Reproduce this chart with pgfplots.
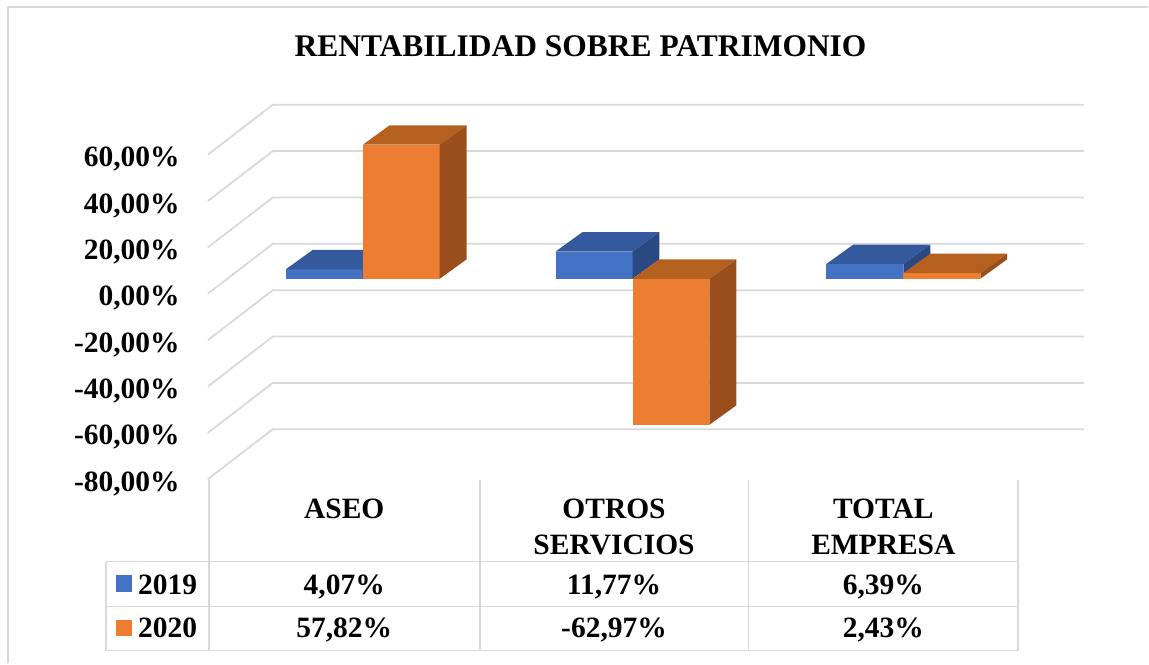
\documentclass[border=0pt]{standalone}
\usepackage{pgfplots}
\pgfplotsset{compat=1.18}
\usepackage{fontspec}
\setmainfont{Liberation Serif}
\definecolor{bfront}{HTML}{4472C4}
\definecolor{btop}{HTML}{34599D}
\definecolor{bside}{HTML}{2A4983}
\definecolor{ofront}{HTML}{ED7D31}
\definecolor{otop}{HTML}{B5601F}
\definecolor{oside}{HTML}{9A4E1C}
\definecolor{gridc}{RGB}{217,217,217}
\newcommand{\lbl}{\fontsize{29.5}{36}\selectfont\bfseries}
% 3D bar: #1 left x (px), #2 value (%), #3 front, #4 top, #5 side colour
\newcommand{\cube}[5]{%
  \pgfmathsetmacro\xa{#1}%
  \pgfmathsetmacro\xb{#1+77}%
  \pgfmathsetmacro\xc{#1+27}%
  \pgfmathsetmacro\xd{#1+104}%
  \pgfmathsetmacro\lo{min(0,#2)}%
  \pgfmathsetmacro\hi{max(0,#2)}%
  \pgfmathsetmacro\lod{\lo+8.4}%
  \pgfmathsetmacro\hid{\hi+8.4}%
  \edef\doit{%
    \noexpand\addplot[fill=#3,draw=none] coordinates {(\xa,\lo) (\xb,\lo) (\xb,\hi) (\xa,\hi)} --cycle;
    \noexpand\addplot[fill=#4,draw=none] coordinates {(\xa,\hi) (\xb,\hi) (\xd,\hid) (\xc,\hid)} --cycle;
    \noexpand\addplot[fill=#5,draw=none] coordinates {(\xb,\lo) (\xd,\lod) (\xd,\hid) (\xb,\hi)} --cycle;
  }\doit}
\begin{document}
\begin{tikzpicture}
\begin{scope}[x=1pt,y=-1pt]
  \path (0,0) rectangle (1149,664);
  \draw[gridc,line width=1.8pt] (8,664) -- (8,7) -- (1149,7);
  \foreach \g in {60,40,20,0,-20,-40,-60,-80}{
    \pgfmathsetmacro\yb{244-2.32*\g}
    \draw[gridc,line width=1.8pt] (208,\yb+50) -- (273,\yb) -- (1085,\yb);
  }
\end{scope}
\begin{axis}[anchor=north west, at={(0pt,0pt)}, x=1pt, y=2.32pt,
  xmin=0, xmax=1149, ymin=-165.948, ymax=120.2586,
  hide axis, clip=false]
  \cube{286}{4.07}{bfront}{btop}{bside}
  \cube{363}{57.82}{ofront}{otop}{oside}
  \cube{556}{11.77}{bfront}{btop}{bside}
  \cube{633}{-62.97}{ofront}{otop}{oside}
  \cube{827}{6.39}{bfront}{btop}{bside}
  \cube{904}{2.43}{ofront}{otop}{oside}
\end{axis}
\begin{scope}[x=1pt,y=-1pt]
  \node[anchor=base, font=\fontsize{31.5}{36}\selectfont\bfseries] at (581,57) {RENTABILIDAD SOBRE PATRIMONIO};
  \foreach \g/\t in {60/60,40/40,20/20,0/0,-20/-20,-40/-40,-60/-60,-80/-80}{
    \pgfmathsetmacro\yb{244-2.32*\g+62}
    \node[anchor=base east, inner sep=0pt, font=\lbl] at (180,\yb) {\t,00\%};
  }
  % table
  \draw[gridc,line width=1.8pt] (106,562) -- (1019,562);
  \draw[gridc,line width=1.8pt] (106,607) -- (1019,607);
  \draw[gridc,line width=1.8pt] (106,651) -- (1019,651);
  \draw[gridc,line width=1.8pt] (106,562) -- (106,651);
  \foreach \xv in {209,480,749,1019}{
    \draw[gridc,line width=1.8pt] (\xv,480) -- (\xv,651);
  }
  \node[anchor=base, inner sep=0pt, font=\lbl] at (344.5,519) {ASEO};
  \node[anchor=base, inner sep=0pt, font=\lbl] at (614.5,519) {OTROS};
  \node[anchor=base, inner sep=0pt, font=\lbl] at (614.5,555) {SERVICIOS};
  \node[anchor=base, inner sep=0pt, font=\lbl] at (884,519) {TOTAL};
  \node[anchor=base, inner sep=0pt, font=\lbl] at (884,555) {EMPRESA};
  \fill[bfront] (116,575) rectangle (132,592);
  \fill[ofront] (116,620) rectangle (132,636);
  \node[anchor=base west, inner sep=0pt, font=\lbl] at (138,595) {2019};
  \node[anchor=base west, inner sep=0pt, font=\lbl] at (138,638) {2020};
  \node[anchor=base, inner sep=0pt, font=\lbl] at (344.5,595) {4,07\%};
  \node[anchor=base, inner sep=0pt, font=\lbl] at (614.5,595) {11,77\%};
  \node[anchor=base, inner sep=0pt, font=\lbl] at (884,595) {6,39\%};
  \node[anchor=base, inner sep=0pt, font=\lbl] at (344.5,638) {57,82\%};
  \node[anchor=base, inner sep=0pt, font=\lbl] at (614.5,638) {-62,97\%};
  \node[anchor=base, inner sep=0pt, font=\lbl] at (884,638) {2,43\%};
\end{scope}
\end{tikzpicture}
\end{document}
